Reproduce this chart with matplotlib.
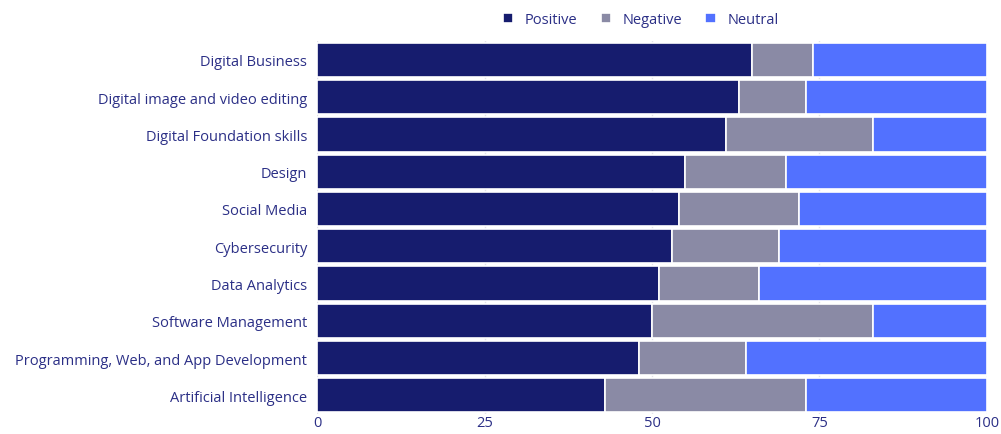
import matplotlib
matplotlib.use("Agg")
import matplotlib.pyplot as plt
import numpy as np

categories = ["Digital Business", "Digital image and video editing", "Digital Foundation skills",
              "Design", "Social Media", "Cybersecurity", "Data Analytics", "Software Management",
              "Programming, Web, and App Development", "Artificial Intelligence"]
positive = [65, 63, 61, 55, 54, 53, 51, 50, 48, 43]
negative = [9, 10, 22, 15, 18, 16, 15, 33, 16, 30]
neutral = [26, 27, 17, 30, 28, 31, 34, 17, 36, 27]
series_names = ["Positive", "Negative", "Neutral"]
colors = ["#161C6E", "#8A8AA5", "#5271FF"]
text_color = "#2B2F86"

plt.rcParams['font.family'] = ['Open Sans', 'DejaVu Sans']

fig = plt.figure(figsize=(10.01, 4.35), dpi=100)
ax = fig.add_axes([0.3167, 0.046, 0.6693, 0.857])

y = np.arange(len(categories))
left = np.zeros(len(categories))
for name, vals, c in zip(series_names, [positive, negative, neutral], colors):
    ax.barh(y, vals, left=left, height=0.92, color=c, edgecolor="white", linewidth=1.2,
            label=name, zorder=3)
    left += np.array(vals)

ax.set_ylim(len(categories) - 0.5, -0.5)
ax.set_xlim(0, 100)
ax.set_xticks([0, 25, 50, 75, 100])
ax.set_yticks(y)
ax.set_yticklabels(categories)
ax.tick_params(axis='both', length=0, colors=text_color, labelsize=10.5)
ax.tick_params(axis='y', pad=7)
ax.tick_params(axis='x', pad=1)
ax.grid(axis='x', color="#E3E3EA", linewidth=1, zorder=0)
for s in ax.spines.values():
    s.set_visible(False)

leg = fig.legend(loc="upper center", bbox_to_anchor=(0.64, 1.0), ncol=3, frameon=False,
                 fontsize=10.5, handlelength=0.7, handleheight=0.7, columnspacing=1.6,
                 handletextpad=0.8)
for t in leg.get_texts():
    t.set_color(text_color)

fig.savefig("out.png", dpi=100)
